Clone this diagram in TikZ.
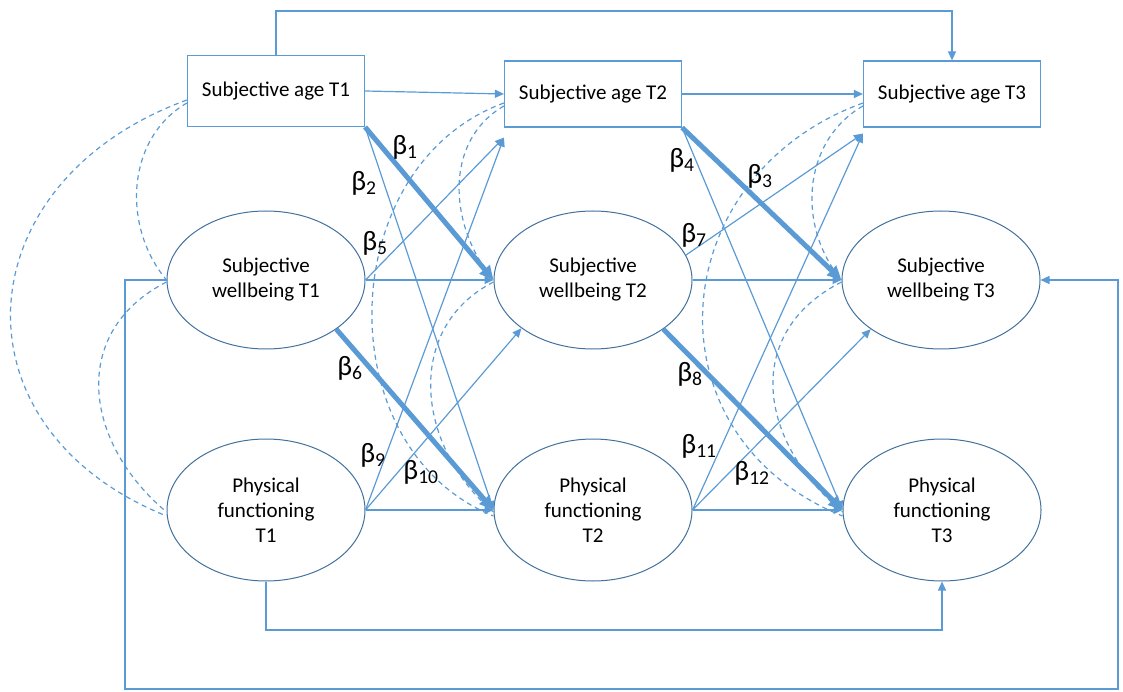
\documentclass[tikz,border=0pt]{standalone}
\usepackage{fontspec}
\setmainfont{Carlito}
\usetikzlibrary{arrows.meta,shapes.geometric}
\definecolor{pathblue}{RGB}{91,155,213}
\definecolor{ovalblue}{RGB}{65,113,156}

\begin{document}
\begin{tikzpicture}[x=1pt, y=1pt, >={Triangle[length=9pt,width=8pt]},
	every node/.style={font=\fontsize{21}{25}\selectfont, align=center},
	agebox/.style={draw=pathblue, line width=1.2pt, minimum width=177pt, minimum height=66pt, inner sep=0pt},
	oval/.style={ellipse, draw=ovalblue, line width=1pt, minimum width=198pt, minimum height=138pt, inner sep=0pt},
	effect/.style={pathblue, line width=1.2pt, ->},
	keyeffect/.style={pathblue, line width=5pt, -{Triangle[length=14pt,width=13pt]}},
	corr/.style={pathblue, line width=1.2pt, dash pattern=on 5pt off 4pt},
	coef/.style={font=\fontsize{28}{32}\selectfont, inner sep=0pt}]
	\useasboundingbox (0,0) rectangle (1123,691);
	\node[agebox, minimum height=71pt] (a1) at (276,600) {Subjective age T1};
	\node[agebox] (a2) at (593,597) {Subjective age T2};
	\node[agebox] (a3) at (952,597) {Subjective age T3};
	\node[oval] (s1) at (266,411) {Subjective\\wellbeing T1};
	\node[oval] (s2) at (593,411) {Subjective\\wellbeing T2};
	\node[oval] (s3) at (941,411) {Subjective\\wellbeing T3};
	\node[oval, minimum height=142pt] (p1) at (266,181) {Physical\\functioning\\T1};
	\node[oval, minimum height=142pt] (p2) at (593,181) {Physical\\functioning\\T2};
	\node[oval, minimum height=142pt] (p3) at (942,181) {Physical\\functioning\\T3};
	\coordinate (a2in) at ([yshift=-10pt]a2.south west);
	\coordinate (a3in) at ([yshift=-6pt]a3.south west);
	\coordinate (topline) at (0,680);
	\coordinate (lowline) at (0,61);
	\coordinate (loopleft) at (125,2);
	\coordinate (loopright) at (1118,2);
	\draw[effect] (a1.east) -- (a2.west);
	\draw[effect] (a2.east) -- (a3.west);
	\draw[effect] (s1.east) -- (s2.west);
	\draw[effect] (s2.east) -- (s3.west);
	\draw[effect] (p1.east) -- (p2.west);
	\draw[effect] (p2.east) -- (p3.west);
	\draw[effect] (a1.north) -- (a1.north |- topline) -| (a3.north);
	\draw[effect] (p1.south) -- (p1.south |- lowline) -| (p3.south);
	\draw[effect] (s1.west) -| (loopleft) -- (loopright) |- (s3.east);
	\draw[keyeffect] (a1.south east) -- (s2.west);
	\draw[effect] (a1.south east) -- (p2.west);
	\draw[effect] (s1.east) -- (a2in);
	\draw[keyeffect] (s1.-35) -- (p2.west);
	\draw[effect] (p1.east) -- (a2in);
	\draw[effect] (p1.east) -- (s2.214);
	\draw[keyeffect] (a2.south east) -- (s3.west);
	\draw[effect] (a2.south east) -- (p3.west);
	\draw[effect] (s2.15) -- (a3in);
	\draw[keyeffect] (s2.-35) -- (p3.west);
	\draw[effect] (p2.east) -- (a3in);
	\draw[effect] (p2.east) -- (s3.215);
	\foreach \t/\ap/\sp in {1/237/109, 2/181/101, 3/214/111} {
		\draw[corr] ([yshift=-12pt]a\t.west) to[out=210, in=130, distance=70pt] (s\t.west);
		\draw[corr] ([yshift=-9pt]a\t.west) to[out=200, in=158, distance=\ap pt] ([yshift=-6pt]p\t.west);
		\draw[corr] ([yshift=-2pt]s\t.west) to[out=207, in=140, distance=\sp pt] ([yshift=-2pt]p\t.west);
	}
	\node[coef] (b1) at (405,544) {β\textsubscript{1}};
	\node[coef] (b2) at (364,508) {β\textsubscript{2}};
	\node[coef] (b3) at (760,515) {β\textsubscript{3}};
	\node[coef] (b4) at (682,531) {β\textsubscript{4}};
	\node[coef] (b5) at (375,448) {β\textsubscript{5}};
	\node[coef] (b6) at (350,323) {β\textsubscript{6}};
	\node[coef] (b7) at (694,456) {β\textsubscript{7}};
	\node[coef] (b8) at (690,317) {β\textsubscript{8}};
	\node[coef] (b9) at (373,236) {β\textsubscript{9}};
	\node[coef] (b10) at (421,219) {β\textsubscript{10}};
	\node[coef] (b11) at (699,245) {β\textsubscript{11}};
	\node[coef] (b12) at (752,218) {β\textsubscript{12}};
\end{tikzpicture}
\end{document}
